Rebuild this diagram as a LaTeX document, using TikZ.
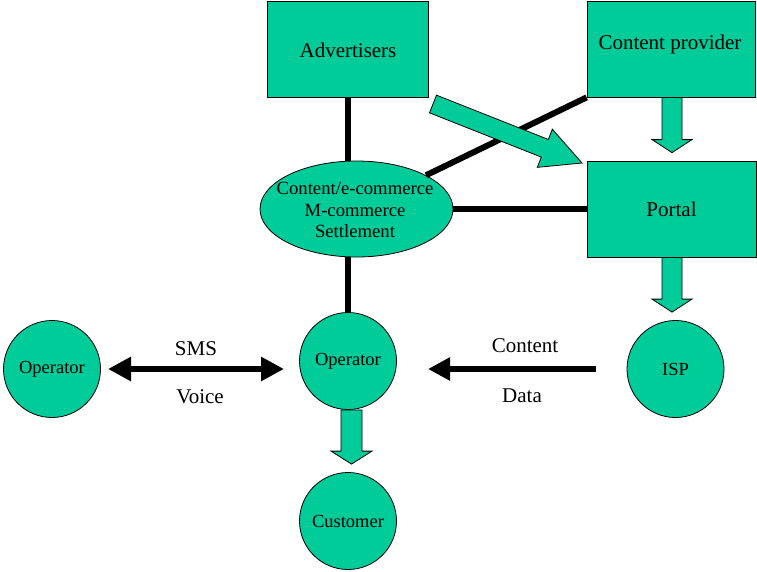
\documentclass[tikz,border=0pt]{standalone}
\usepackage{fontspec}
\setmainfont{Liberation Serif}
\usetikzlibrary{shapes.geometric,calc,arrows.meta}
\definecolor{tgreen}{RGB}{0,204,153}
\tikzset{
  boxnode/.style={draw=black,line width=0.8pt,fill=tgreen,rectangle,inner sep=0pt,font=\fontsize{21}{24}\selectfont},
  circnode/.style={draw=black,line width=0.8pt,fill=tgreen,circle,minimum size=97pt,inner sep=0pt,font=\fontsize{18.5}{21}\selectfont},
  ellnode/.style={draw=black,line width=0.8pt,fill=tgreen,ellipse,minimum width=193pt,minimum height=96pt,inner sep=0pt},
  lbl/.style={font=\fontsize{21}{24}\selectfont,inner sep=0pt},
  thickline/.style={line width=6pt,black},
  flowarrow/.style={line width=6pt,black},
  blockarrow/.style={draw=black,line width=0.8pt,fill=tgreen,line join=miter},
}
\newcommand{\barrow}[5]{%
  \coordinate (bh) at ($(#2)!#5!(#1)$);
  \draw[blockarrow] ($(#1)!#3!90:(#2)$) -- ($(bh)!#3!90:(#2)$) -- ($(bh)!#4!90:(#2)$) -- (#2)
    -- ($(bh)!#4!-90:(#2)$) -- ($(bh)!#3!-90:(#2)$) -- ($(#1)!#3!-90:(#2)$) -- cycle;
}
\begin{document}
\begin{tikzpicture}[x=1pt,y=-1pt]
\useasboundingbox (0,0) rectangle (757,571);
% nodes
\node[boxnode,minimum width=161pt,minimum height=96pt] (adv) at (347.5,49) {};
\node[lbl] (advt) at (348,50) {Advertisers};
\node[boxnode,minimum width=168pt,minimum height=96pt] (cp) at (671,49) {};
\node[lbl] (cpt) at (670,44) {Content provider};
\node[boxnode,minimum width=169pt,minimum height=96pt] (portal) at (671.5,209) {Portal};
\node[ellnode] (ell) at (356.5,209) {};
\node[align=center,inner sep=0pt,font=\fontsize{18.7}{21.7}\selectfont] (ellt) at (355,210) {Content/e-commerce\\M-commerce\\Settlement};
\node[circnode] (op) at (348,361) {Operator};
\node[circnode] (cust) at (348,521) {Customer};
\node[circnode] (isp) at (675.5,369) {ISP};
\node[circnode] (opl) at (52,369) {Operator};
% thick connectors
\draw[thickline] (adv.south) -- (adv.south |- ell.north);
\draw[thickline] (op.north) -- (op.north |- ell.south);
\draw[thickline] (ell) -- (portal);
\draw[thickline] (ell) -- (cp.south west);
% block arrows
\coordinate (d1) at (433,104);
\coordinate (d2) at (582,163);
\barrow{d1}{d2}{9.5pt}{20.5pt}{40pt}
\coordinate (c1) at (cp.south -| 672,0);
\coordinate (c2) at ($(portal.north -| 672,0)+(0,-8)$);
\barrow{c1}{c2}{10pt}{20pt}{13pt}
\coordinate (p1) at (portal.south -| 672,0);
\coordinate (p2) at ($(isp.north -| 672,0)+(0,-8)$);
\barrow{p1}{p2}{10pt}{20pt}{13pt}
\coordinate (o1) at (op.south -| 351.5,0);
\coordinate (o2) at ($(cust.north -| 351.5,0)+(0,-8)$);
\barrow{o1}{o2}{10.5pt}{20.5pt}{13pt}
% flow arrows
\coordinate (smsl) at (108,369);
\coordinate (smsr) at (284,369);
\draw[flowarrow,{Triangle[length=23pt,width=23pt]}-{Triangle[length=23pt,width=23pt]}] (smsl) -- (smsr);
\node[lbl] (sms) at (196,349) {SMS};
\node[lbl] (voice) at (200,397) {Voice};
\coordinate (cdr) at (596,369);
\coordinate (cdl) at (428,369);
\draw[flowarrow,-{Triangle[length=22pt,width=22pt]}] (cdr) -- (cdl);
\node[lbl] (content) at (525,346) {Content};
\node[lbl] (data) at (522,396) {Data};
\end{tikzpicture}
\end{document}
